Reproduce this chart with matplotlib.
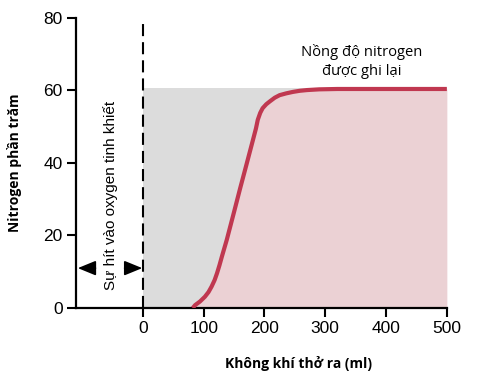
import matplotlib.pyplot as plt
import numpy as np

volume = np.array([82, 86, 94, 102, 108, 113, 118, 122, 126, 130, 138, 150, 160, 170,
                   181, 186, 189, 193, 197, 203, 209, 217, 225, 236, 247, 258, 270, 290, 320, 400, 500])
nitrogen = np.array([0, 0.8, 1.8, 3.1, 4.4, 5.9, 7.7, 9.6, 11.8, 14.2, 18.8, 26.5, 33, 39.3,
                     46.3, 49.5, 51.9, 53.8, 55.1, 56.2, 57.0, 58.0, 58.7, 59.2, 59.6, 59.9, 60.1, 60.3, 60.4, 60.4, 60.4])
plateau = 60.7
x_ticks = [0, 100, 200, 300, 400, 500]
y_ticks = [0, 20, 40, 60, 80]

fig = plt.figure(figsize=(4.81, 3.81), dpi=100)
ax = fig.add_axes([0.158, 0.1916, 0.771, 0.7614])

ax.fill_between([0, 500], 0, plateau, color='#dcdcdc', lw=0, zorder=1)
ax.fill_between(volume, 0, nitrogen, color='#ebd1d4', lw=0, zorder=2)
ax.plot(volume, nitrogen, color='#c03850', lw=3, solid_capstyle='butt',
        solid_joinstyle='round', zorder=3)
ax.plot([0, 0], [0, 79.5], color='black', lw=1.5, dashes=(5.8, 2.9), zorder=4)

ax.set_xlim(-110, 500)
ax.set_ylim(0, 80)
ax.set_xticks(x_ticks)
ax.set_yticks(y_ticks)
for s in ['top', 'right']:
    ax.spines[s].set_visible(False)
for s in ['left', 'bottom']:
    ax.spines[s].set_linewidth(1.6)
ax.tick_params(length=6.5, width=1.5, labelsize=12.5, pad=3)
for lab in ax.get_xticklabels() + ax.get_yticklabels():
    lab.set_family('Liberation Sans')

ax.set_ylabel('Nitrogen phần trăm', family='Open Sans', fontweight='bold', fontsize=10)
ax.yaxis.set_label_coords(-0.145, 0.5)
ax.set_xlabel('Không khí thở ra (ml)', family='Open Sans', fontweight='bold', fontsize=10)
ax.xaxis.set_label_coords(0.601, -0.165)

ax.text(360, 68, 'Nồng độ nitrogen\nđược ghi lại', ha='center', va='center',
        family='Open Sans', fontsize=10.6, linespacing=1.35)
ax.text(-53, 31, 'Sự hít vào oxygen tinh khiết', rotation=90, ha='center', va='center',
        family='Liberation Sans', fontsize=11)

arrow = dict(arrowstyle='-|>,head_length=1.1,head_width=0.45', color='black', lw=1.2,
             shrinkA=0, shrinkB=0)
ax.annotate('', xy=(-107, 11), xytext=(-78, 11), arrowprops=arrow)
ax.annotate('', xy=(-1, 11), xytext=(-30, 11), arrowprops=arrow)

plt.savefig('out.png', dpi=100)
